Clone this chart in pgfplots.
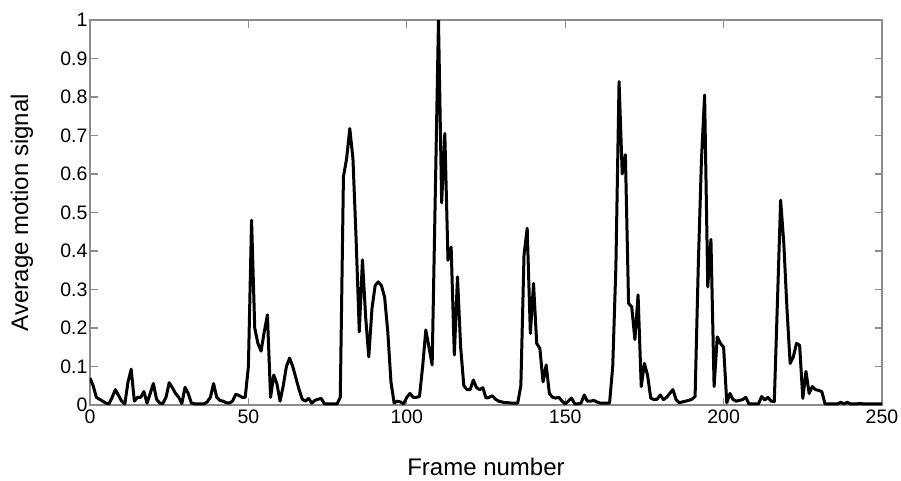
\documentclass[border=0pt]{standalone}
\usepackage{pgfplots}
\pgfplotsset{compat=1.18}
\usepackage{fontspec}
\setmainfont{Liberation Sans}
\begin{document}
\begin{tikzpicture}
\begin{axis}[
  scale only axis,
  width=792pt, height=385pt,
  xmin=0, xmax=250, ymin=0, ymax=1,
  xtick={0,50,...,250},
  ytick={0,0.1,...,1.0},
  yticklabels={0,0.1,0.2,0.3,0.4,0.5,0.6,0.7,0.8,0.9,1},
  tick align=inside,
  major tick length=7.5pt,
  axis line style={draw=gray!90, line width=1.2pt},
  every tick/.style={draw=gray!90, line width=1.2pt},
  /pgf/number format/assume math mode=true,
  tick label style={font=\fontsize{19.5}{21}\selectfont},
  xticklabel style={yshift=-1pt},
  yticklabel style={xshift=1pt},
  xlabel={Frame number},
  ylabel={Average motion signal},
  label style={font=\fontsize{24}{26}\selectfont},
  xlabel style={at={(axis description cs:0.5,0)}, anchor=base, yshift=-70pt},
  ylabel style={at={(axis description cs:-0.0859,0.5)}, anchor=center},
]
\addplot[black, line width=3pt, line join=round] table {
x y
0 0.07
1 0.05
2 0.02
3 0.015
4 0.01
5 0.005
6 0.003
7 0.02
8 0.04
9 0.025
10 0.01
11 0.003
12 0.06
13 0.093
14 0.01
15 0.02
16 0.02
17 0.035
18 0.005
19 0.03
20 0.056
21 0.015
22 0.005
23 0.004
24 0.02
25 0.058
26 0.045
27 0.03
28 0.02
29 0.004
30 0.046
31 0.03
32 0.005
33 0.003
34 0.003
35 0.003
36 0.003
37 0.008
38 0.02
39 0.056
40 0.02
41 0.012
42 0.01
43 0.006
44 0.005
45 0.01
46 0.028
47 0.025
48 0.02
49 0.02
50 0.1
51 0.48
52 0.2
53 0.16
54 0.14
55 0.19
56 0.234
57 0.02
58 0.078
59 0.055
60 0.01
61 0.05
62 0.1
63 0.122
64 0.1
65 0.07
66 0.04
67 0.015
68 0.01
69 0.017
70 0.005
71 0.012
72 0.015
73 0.017
74 0.003
75 0.003
76 0.003
77 0.003
78 0.003
79 0.02
80 0.593
81 0.64
82 0.718
83 0.64
84 0.43
85 0.19
86 0.377
87 0.23
88 0.125
89 0.25
90 0.31
91 0.32
92 0.31
93 0.28
94 0.19
95 0.06
96 0.005
97 0.01
98 0.008
99 0.003
100 0.02
101 0.03
102 0.02
103 0.02
104 0.022
105 0.1
106 0.195
107 0.15
108 0.104
109 0.55
110 1.0
111 0.525
112 0.705
113 0.376
114 0.41
115 0.13
116 0.333
117 0.15
118 0.05
119 0.04
120 0.04
121 0.065
122 0.045
123 0.04
124 0.045
125 0.018
126 0.02
127 0.024
128 0.015
129 0.01
130 0.008
131 0.006
132 0.006
133 0.005
134 0.005
135 0.005
136 0.05
137 0.39
138 0.459
139 0.186
140 0.316
141 0.16
142 0.147
143 0.06
144 0.104
145 0.03
146 0.02
147 0.018
148 0.02
149 0.01
150 0.003
151 0.01
152 0.018
153 0.003
154 0.003
155 0.005
156 0.026
157 0.01
158 0.01
159 0.012
160 0.008
161 0.005
162 0.005
163 0.005
164 0.005
165 0.1
166 0.36
167 0.84
168 0.6
169 0.65
170 0.264
171 0.255
172 0.17
173 0.286
174 0.048
175 0.108
176 0.077
177 0.018
178 0.014
179 0.015
180 0.026
181 0.014
182 0.02
183 0.03
184 0.04
185 0.014
186 0.006
187 0.008
188 0.01
189 0.012
190 0.015
191 0.022
192 0.36
193 0.636
194 0.805
195 0.307
196 0.43
197 0.048
198 0.177
199 0.16
200 0.15
201 0.006
202 0.03
203 0.014
204 0.01
205 0.012
206 0.014
207 0.02
208 0.003
209 0.003
210 0.003
211 0.003
212 0.022
213 0.013
214 0.02
215 0.01
216 0.009
217 0.27
218 0.532
219 0.42
220 0.25
221 0.108
222 0.125
223 0.16
224 0.155
225 0.017
226 0.087
227 0.03
228 0.048
229 0.04
230 0.038
231 0.035
232 0.003
233 0.003
234 0.003
235 0.003
236 0.003
237 0.007
238 0.003
239 0.007
240 0.003
241 0.003
242 0.003
243 0.004
244 0.003
245 0.003
246 0.003
247 0.003
248 0.003
249 0.003
250 0.003
};
\end{axis}
\pgfresetboundingbox
\path (current axis.south west) ++(-90pt,-75pt) coordinate (bbA);
\path (current axis.north east) ++(19pt,20pt) coordinate (bbB);
\useasboundingbox (bbA) rectangle (bbB);
\end{tikzpicture}
\end{document}
